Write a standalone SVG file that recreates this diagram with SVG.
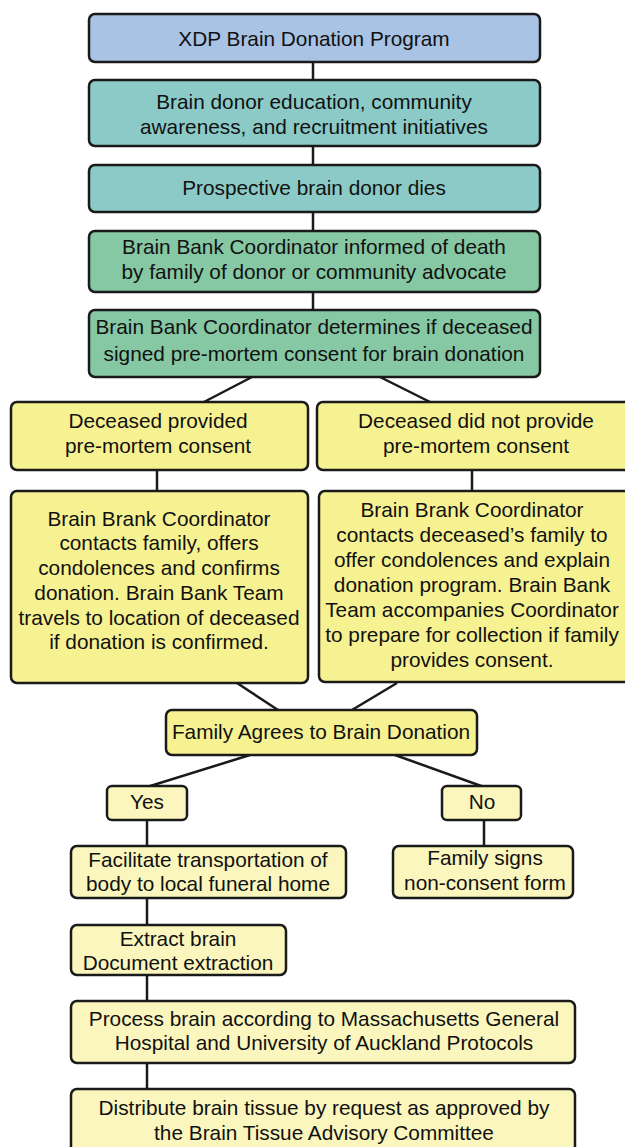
<svg xmlns="http://www.w3.org/2000/svg" width="625" height="1147" viewBox="0 0 625 1147">
<style>
.box{stroke:#1a1a1a;stroke-width:2.5}
.blue{fill:#a8c3e3}
.teal{fill:#8bcac6}
.green{fill:#86c7a4}
.yel{fill:#f7f291}
.lyel{fill:#faf6bd}
text{font-family:"Liberation Sans",Arial,sans-serif;font-size:20.8px;fill:#111;text-anchor:middle}
.con line{stroke:#1a1a1a;stroke-width:2.5}
</style>
<rect width="625" height="1147" fill="#fff"/>
<g class="con">
<line x1="313" y1="62" x2="313" y2="80"/>
<line x1="313" y1="146" x2="313" y2="165"/>
<line x1="313" y1="212" x2="313" y2="231"/>
<line x1="313" y1="292" x2="313" y2="310"/>
<line x1="252" y1="377" x2="202" y2="403"/>
<line x1="380" y1="377" x2="432" y2="403"/>
<line x1="157" y1="470" x2="157" y2="491"/>
<line x1="472" y1="470" x2="472" y2="491"/>
<line x1="237" y1="683" x2="278" y2="710"/>
<line x1="397" y1="683" x2="352" y2="710"/>
<line x1="250" y1="755" x2="147" y2="787"/>
<line x1="395" y1="755" x2="484" y2="787"/>
<line x1="147" y1="820" x2="147" y2="846"/>
<line x1="484" y1="820" x2="484" y2="846"/>
<line x1="147" y1="898" x2="147" y2="925"/>
<line x1="147" y1="975" x2="147" y2="1001"/>
<line x1="147" y1="1063" x2="147" y2="1089"/>
</g>
<g id="n1"><rect class="box blue" x="89" y="14" width="451" height="48" rx="6"/><text x="314" y="46">XDP Brain Donation Program</text></g>
<g id="n2"><rect class="box teal" x="89" y="80" width="451" height="66" rx="6"/><text x="314" y="109">Brain donor education, community</text><text x="314" y="134">awareness, and recruitment initiatives</text></g>
<g id="n3"><rect class="box teal" x="89" y="165" width="451" height="47" rx="6"/><text x="314" y="195">Prospective brain donor dies</text></g>
<g id="n4"><rect class="box green" x="89" y="231" width="451" height="61" rx="6"/><text x="314" y="254">Brain Bank Coordinator informed of death</text><text x="314" y="279">by family of donor or community advocate</text></g>
<g id="n5"><rect class="box green" x="89" y="310" width="451" height="67" rx="6"/><text x="314" y="334">Brain Bank Coordinator determines if deceased</text><text x="314" y="361">signed pre-mortem consent for brain donation</text></g>
<g id="n6"><rect class="box yel" x="11" y="402" width="297" height="68" rx="6"/><text x="158" y="428">Deceased provided</text><text x="158" y="453">pre-mortem consent</text></g>
<g id="n7"><rect class="box yel" x="317" y="402" width="318" height="68" rx="6"/><text x="476" y="428">Deceased did not provide</text><text x="476" y="453">pre-mortem consent</text></g>
<g id="n8"><rect class="box yel" x="11" y="491" width="297" height="192" rx="6"/><text x="159" y="526">Brain Brank Coordinator</text><text x="159" y="550">contacts family, offers</text><text x="159" y="575">condolences and confirms</text><text x="159" y="600">donation. Brain Bank Team</text><text x="159" y="625">travels to location of deceased</text><text x="159" y="649">if donation is confirmed.</text></g>
<g id="n9"><rect class="box yel" x="319" y="491" width="316" height="191" rx="6"/><text x="472" y="517">Brain Brank Coordinator</text><text x="472" y="542">contacts deceased’s family to</text><text x="472" y="567">offer condolences and explain</text><text x="472" y="592">donation program. Brain Bank</text><text x="472" y="617">Team accompanies Coordinator</text><text x="472" y="642">to prepare for collection if family</text><text x="472" y="667">provides consent.</text></g>
<g id="n10"><rect class="box yel" x="166" y="710" width="311" height="45" rx="6"/><text x="321" y="739">Family Agrees to Brain Donation</text></g>
<g id="n11"><rect class="box lyel" x="107" y="786" width="80" height="34" rx="5"/><text x="147" y="809">Yes</text></g>
<g id="n12"><rect class="box lyel" x="442" y="786" width="79" height="34" rx="5"/><text x="482" y="809">No</text></g>
<g id="n13"><rect class="box lyel" x="71" y="846" width="275" height="52" rx="6"/><text x="208" y="867">Facilitate transportation of</text><text x="208" y="891">body to local funeral home</text></g>
<g id="n14"><rect class="box lyel" x="393" y="846" width="180" height="52" rx="6"/><text x="485" y="865">Family signs</text><text x="485" y="890">non-consent form</text></g>
<g id="n15"><rect class="box lyel" x="71" y="925" width="215" height="50" rx="6"/><text x="178" y="946">Extract brain</text><text x="178" y="970">Document extraction</text></g>
<g id="n16"><rect class="box lyel" x="71" y="1001" width="504" height="62" rx="6"/><text x="324" y="1026">Process brain according to Massachusetts General</text><text x="324" y="1050">Hospital and University of Auckland Protocols</text></g>
<g id="n17"><rect class="box lyel" x="71" y="1089" width="504" height="70" rx="6"/><text x="324" y="1115">Distribute brain tissue by request as approved by</text><text x="324" y="1140">the Brain Tissue Advisory Committee</text></g>
</svg>
